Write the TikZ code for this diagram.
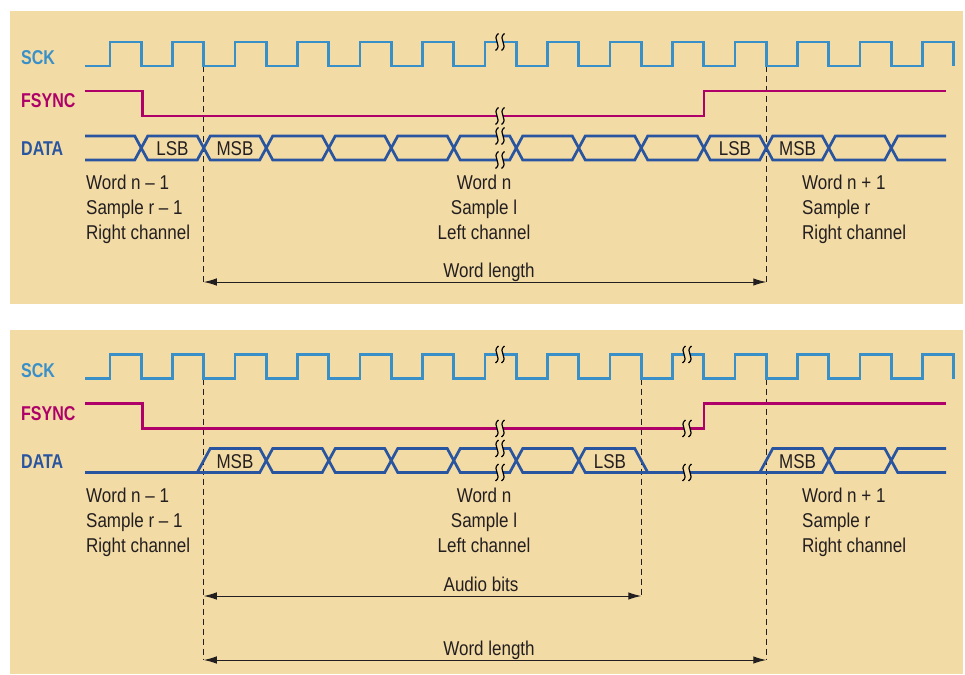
\documentclass[tikz,border=0pt]{standalone}
\usepackage{fontspec}
\setmainfont{Liberation Sans}[FakeStretch=0.85]
\newfontfamily\sigfont{Liberation Sans}[FakeStretch=0.8]
\usetikzlibrary{arrows.meta}

\definecolor{panel}{RGB}{243,219,165}
\definecolor{sckc}{RGB}{57,144,201}
\definecolor{fsyncc}{RGB}{174,0,104}
\definecolor{datac}{RGB}{40,84,160}
\definecolor{ink}{RGB}{35,31,32}

% break in a signal line: two wiggles with a gap between
\newcommand{\breakmark}[2]{%
  \fill[panel] ({#1-3},{#2-5}) rectangle ({#1+3},{#2+5});
  \foreach \off in {-3,3}
    \draw[brk] ({#1+\off+1.5},{#2-8.5}) .. controls ({#1+\off-6},{#2-3}) and ({#1+\off+6},{#2+3}) .. ({#1+\off-1.5},{#2+8.5});}

\begin{document}
\begin{tikzpicture}[
    x=1pt, y=-1pt,
    declare function = {
        per = 62.5; hw = 6.5;
        cx(\k) = 141.25 + per*\k;
      },
    sck/.style={draw=sckc, line width=2.7pt},
    fsync/.style={draw=fsyncc, line width=2.7pt},
    bus/.style={draw=datac, line width=2.7pt, line join=miter},
    brk/.style={draw=black, line width=1.2pt},
    guide/.style={draw=ink, line width=1pt, dash pattern=on 6pt off 4pt},
    dim/.style={draw=ink, line width=1pt, >={Latex[length=13pt,width=7.5pt]}, <->},
    sig/.style={font=\sigfont\fontsize{20}{20}\selectfont\bfseries, anchor=base west, inner sep=0pt},
    txt/.style={font=\fontsize{20}{20}\selectfont, text=ink, inner sep=0pt}
  ]
  \useasboundingbox (0,0) rectangle (965,674);
  \fill[white] (0,0) rectangle (965,674);
  \fill[panel] (10,11) rectangle (963,304);
  \fill[panel] (10,330) rectangle (963,674);

  % guides and lengths, top
  \coordinate (l1) at (203.75,66);  \coordinate (l2) at (203.75,282);
  \coordinate (r1) at (766.25,66);  \coordinate (r2) at (766.25,282);
  \draw[guide] (l1) -- (l2);
  \draw[guide] (r1) -- (r2);
  \draw[dim] (l2) -- (r2);
  \node[txt, anchor=base] (wlt) at (489,277.5) {Word length};

  % guides and lengths, bottom
  \coordinate (bl1) at (203.75,378.5); \coordinate (bl2) at (203.75,660);
  \coordinate (ba)  at (203.75,596);
  \coordinate (bm1) at (641.25,378.5); \coordinate (bm2) at (641.25,596);
  \coordinate (br1) at (766.25,378.5); \coordinate (br2) at (766.25,660);
  \draw[guide] (bl1) -- (bl2);
  \draw[guide] (bm1) -- (bm2);
  \draw[guide] (br1) -- (br2);
  \draw[dim] (ba) -- (bm2);
  \draw[dim] (bl2) -- (br2);
  \node[txt, anchor=base] (abb) at (481,591.5) {Audio bits};
  \node[txt, anchor=base] (wlb) at (489,655.5) {Word length};

  % what both panels share
  \foreach \p/\dy in {t/0, b/312.5} {
    \begin{scope}[shift={(0,\dy)}]
      \node[sig, text=sckc] (sck\p) at (21,64.5) {SCK};
      \node[sig, text=fsyncc] (fs\p) at (21,107.5) {FSYNC};
      \node[sig, text=datac] (dat\p) at (21,155.5) {DATA};

      \draw[sck] (85,66) foreach \k in {0,...,13} {
          -- ({110+per*\k},66) -- ({110+per*\k},42) -- ({cx(\k)},42) -- ({cx(\k)},66) };
      \draw[fsync] (85,91) -- (142.5,91) -- (142.5,116) -- (704,116) -- (704,91) -- (946,91);

      \node[txt, anchor=base west] (wa\p) at (86,189.5) {Word n – 1};
      \node[txt, anchor=base west] (sa\p) at (86,214.5) {Sample r – 1};
      \node[txt, anchor=base west] (ca\p) at (86,239.5) {Right channel};
      \node[txt, anchor=base] (wb\p) at (484,189.5) {Word n};
      \node[txt, anchor=base] (sb\p) at (484,214.5) {Sample l};
      \node[txt, anchor=base] (cb\p) at (484,239.5) {Left channel};
      \node[txt, anchor=base west] (wc\p) at (802,189.5) {Word n + 1};
      \node[txt, anchor=base west] (sc\p) at (802,214.5) {Sample r};
      \node[txt, anchor=base west] (cc\p) at (802,239.5) {Right channel};
    \end{scope}
  }

  % top data bus
  \draw[bus] (85,136) -- ({cx(0)-hw},136) -- ({cx(0)},148) -- ({cx(0)-hw},160) -- (85,160);
  \foreach \k in {0,...,11}
    \draw[bus] ({cx(\k)},148) -- ({cx(\k)+hw},136) -- ({cx(\k+1)-hw},136) -- ({cx(\k+1)},148)
      -- ({cx(\k+1)-hw},160) -- ({cx(\k)+hw},160) -- cycle;
  \draw[bus] (946,136) -- ({cx(12)+hw},136) -- ({cx(12)},148) -- ({cx(12)+hw},160) -- (946,160);
  \node[txt, anchor=base] (lsb1) at (172.5,155.5) {LSB};
  \node[txt, anchor=base] (msb1) at (235,155.5) {MSB};
  \node[txt, anchor=base] (lsb2) at (735,155.5) {LSB};
  \node[txt, anchor=base] (msb2) at (797.5,155.5) {MSB};

  % bottom data bus
  \begin{scope}[shift={(0,312.5)}]
    \draw[bus] (85,160) -- ({cx(2)-hw},160) -- ({cx(2)},148);
    \draw[bus] ({cx(1)-hw},160) -- ({cx(1)+hw},136) -- ({cx(2)-hw},136) -- ({cx(2)},148);
    \foreach \k in {2,...,6}
      \draw[bus] ({cx(\k)},148) -- ({cx(\k)+hw},136) -- ({cx(\k+1)-hw},136) -- ({cx(\k+1)},148)
        -- ({cx(\k+1)-hw},160) -- ({cx(\k)+hw},160) -- cycle;
    \draw[bus] ({cx(7)},148) -- ({cx(7)+hw},136) -- ({cx(8)-hw},136) -- ({cx(8)+hw},160);
    \draw[bus] ({cx(7)},148) -- ({cx(7)+hw},160) -- ({cx(11)-hw},160) -- ({cx(11)},148);
    \draw[bus] ({cx(10)-hw},160) -- ({cx(10)+hw},136) -- ({cx(11)-hw},136) -- ({cx(11)},148);
    \draw[bus] ({cx(11)},148) -- ({cx(11)+hw},136) -- ({cx(12)-hw},136) -- ({cx(12)},148)
      -- ({cx(12)-hw},160) -- ({cx(11)+hw},160) -- cycle;
    \draw[bus] (946,136) -- ({cx(12)+hw},136) -- ({cx(12)},148) -- ({cx(12)+hw},160) -- (946,160);
    \node[txt, anchor=base] (msb3) at (235,155.5) {MSB};
    \node[txt, anchor=base] (lsb3) at (610,155.5) {LSB};
    \node[txt, anchor=base] (msb4) at (797.5,155.5) {MSB};
  \end{scope}

  % breaks
  \foreach \y in {42,116,136,160} \breakmark{500}{\y};
  \begin{scope}[shift={(0,312.5)}]
    \foreach \y in {42,116,136,160} \breakmark{500}{\y};
    \foreach \y in {42,116,160} \breakmark{687}{\y};
  \end{scope}
\end{tikzpicture}
\end{document}
